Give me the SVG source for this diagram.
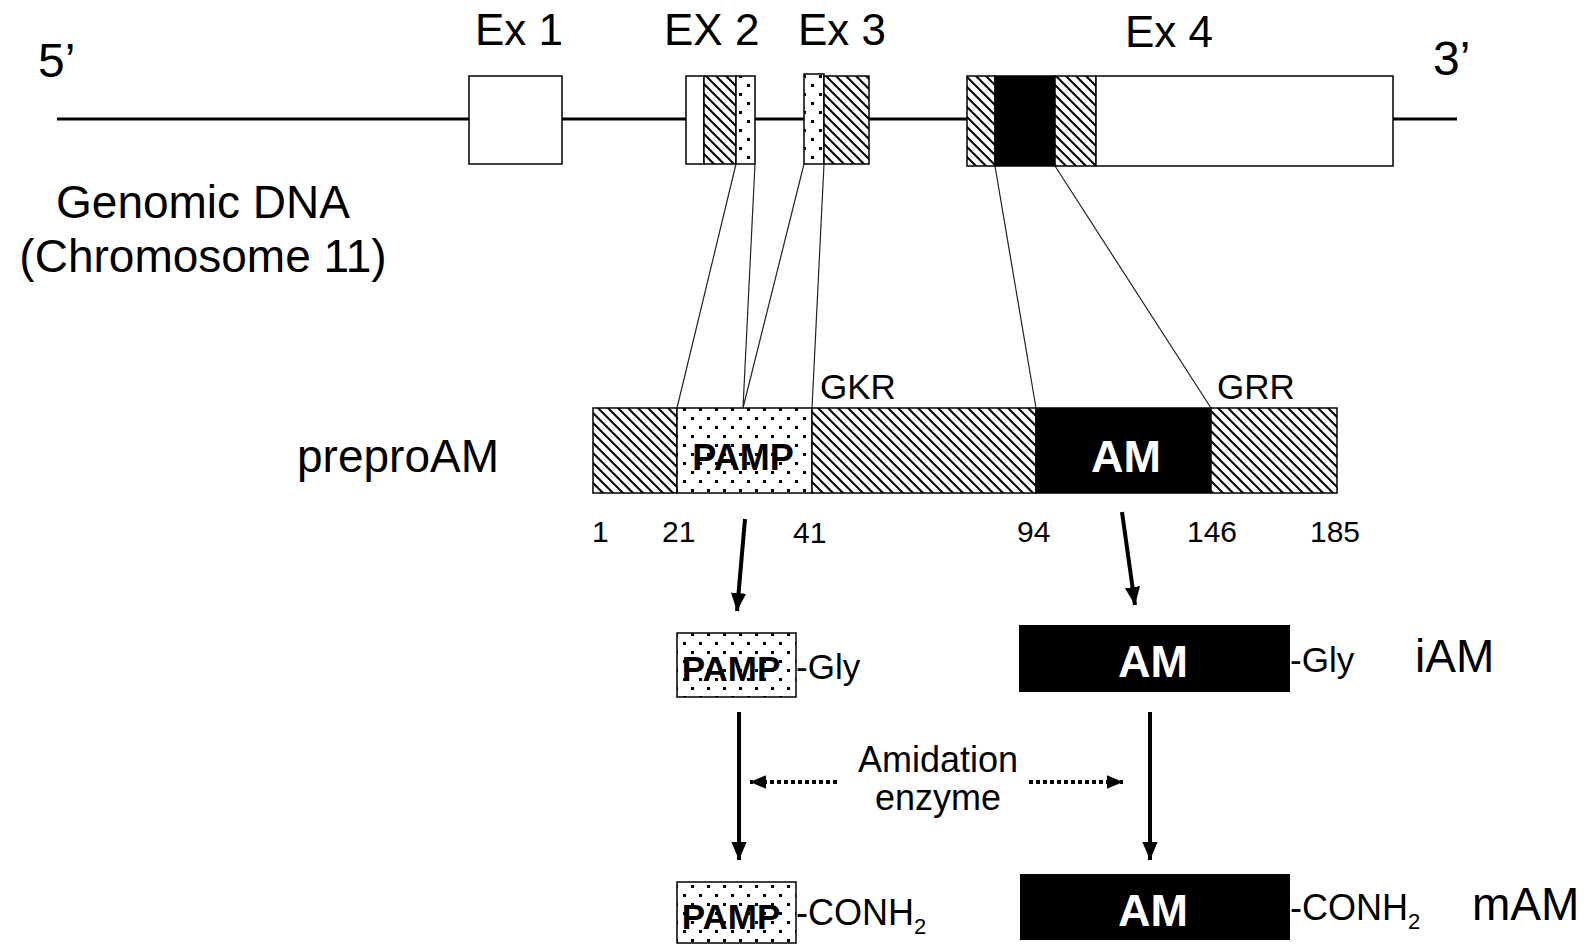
<svg xmlns="http://www.w3.org/2000/svg" width="1589" height="947" viewBox="0 0 1589 947">
<style>
text{font-family:"Liberation Sans",Arial,sans-serif;fill:#000}
.big{font-size:48px}
.ex{font-size:44px}
.lbl{font-size:46px}
.num{font-size:30px}
.mot{font-size:35px}
.side{font-size:36px}
.bw{font-weight:bold;font-size:45px;fill:#fff;text-anchor:middle}
.bp{font-weight:bold;font-size:35px;text-anchor:middle}
.box{stroke:#000;stroke-width:1.5}
.thin{stroke:#222;stroke-width:1.2;fill:none}
.gl{stroke:#000;stroke-width:3;fill:none}
.arr{stroke:#000;stroke-width:4;fill:none;marker-end:url(#ah)}
.darr{stroke:#000;stroke-width:4;fill:none;stroke-dasharray:4 3;marker-end:url(#ah2)}
</style>
<defs>
<pattern id="hatch" patternUnits="userSpaceOnUse" width="10" height="10">
<rect width="10" height="10" fill="#fff"/>
<path d="M0,0 L10,10 M-2,8 L2,12 M8,-2 L12,2" stroke="#000" stroke-width="2"/>
</pattern>
<pattern id="dots" patternUnits="userSpaceOnUse" width="16" height="18">
<rect width="16" height="18" fill="#fff"/>
<rect x="3" y="3" width="3" height="3" fill="#000"/>
<rect x="11" y="12" width="3" height="3" fill="#000"/>
</pattern>
<marker id="ah" markerWidth="5" markerHeight="5" refX="4.5" refY="2.5" orient="auto" markerUnits="strokeWidth">
<path d="M0,0.6 L4.5,2.5 L0,4.4 Z" fill="#000"/>
</marker>
<marker id="ah2" markerWidth="5" markerHeight="5" refX="4" refY="2.5" orient="auto" markerUnits="strokeWidth">
<path d="M0,0.8 L4,2.5 L0,4.2 Z" fill="#000"/>
</marker>
</defs>
<rect width="1589" height="947" fill="#fff"/>

<g id="genome">
<path class="gl" d="M57,119 H469 M562,119 H686 M755,119 H804 M869,119 H967 M1393,119 H1457"/>
<text class="big" x="38" y="77">5’</text>
<text class="big" x="1433" y="75">3’</text>
<text class="lbl" x="203" y="218" text-anchor="middle">Genomic DNA</text>
<text class="lbl" x="203" y="272" text-anchor="middle">(Chromosome 11)</text>
</g>

<g id="ex1">
<rect class="box" x="469" y="76" width="93" height="88" fill="#fff"/>
<text class="ex" x="475" y="45">Ex 1</text>
</g>
<g id="ex2">
<rect class="box" x="686" y="76" width="18" height="88" fill="#fff"/>
<rect class="box" x="704" y="76" width="32" height="88" fill="url(#hatch)"/>
<rect class="box" x="736" y="76" width="19" height="88" fill="url(#dots)"/>
<text class="ex" x="664" y="45">EX 2</text>
</g>
<g id="ex3">
<rect class="box" x="804" y="74" width="20" height="90" fill="url(#dots)"/>
<rect class="box" x="824" y="76" width="45" height="88" fill="url(#hatch)"/>
<text class="ex" x="798" y="45">Ex 3</text>
</g>
<g id="ex4">
<rect class="box" x="967" y="76" width="28" height="90" fill="url(#hatch)"/>
<rect class="box" x="995" y="76" width="60" height="90" fill="#000"/>
<rect class="box" x="1055" y="76" width="41" height="90" fill="url(#hatch)"/>
<rect class="box" x="1096" y="76" width="297" height="90" fill="#fff"/>
<text class="ex" x="1125" y="47">Ex 4</text>
</g>

<g id="preproAM">
<text class="lbl" x="297" y="472">preproAM</text>
<rect class="box" x="593" y="408" width="84" height="85" fill="url(#hatch)"/>
<rect class="box" x="677" y="408" width="135" height="85" fill="url(#dots)"/>
<rect class="box" x="812" y="408" width="224" height="85" fill="url(#hatch)"/>
<rect class="box" x="1036" y="408" width="175" height="85" fill="#000"/>
<rect class="box" x="1211" y="408" width="126" height="85" fill="url(#hatch)"/>
<text class="bp" x="743" y="470" style="font-size:36px">PAMP</text>
<text class="bw" x="1126" y="472">AM</text>
<text class="mot" x="820" y="399">GKR</text>
<text class="mot" x="1217" y="399">GRR</text>
<text class="num" x="592" y="542">1</text>
<text class="num" x="662" y="542">21</text>
<text class="num" x="793" y="543">41</text>
<text class="num" x="1017" y="542">94</text>
<text class="num" x="1187" y="542">146</text>
<text class="num" x="1310" y="542">185</text>
</g>

<g id="pamp-gly">
<rect class="box" x="677" y="633" width="119" height="64" fill="url(#dots)"/>
<text class="bp" x="731" y="681">PAMP</text>
<text class="mot" x="796" y="679">-Gly</text>
</g>
<g id="iAM">
<rect x="1019" y="625" width="271" height="67" fill="#000"/>
<text class="bw" x="1153" y="677">AM</text>
<text class="mot" x="1290" y="672">-Gly</text>
<text class="lbl" x="1415" y="672">iAM</text>
</g>
<g id="pamp-conh2">
<rect class="box" x="677" y="882" width="119" height="61" fill="url(#dots)"/>
<text class="bp" x="731" y="929">PAMP</text>
<text class="side" x="796" y="925">-CONH<tspan font-size="22" dy="9">2</tspan></text>
</g>
<g id="mAM">
<rect x="1020" y="874" width="270" height="66" fill="#000"/>
<text class="bw" x="1153" y="926">AM</text>
<text class="side" x="1290" y="920">-CONH<tspan font-size="22" dy="9">2</tspan></text>
<text class="lbl" x="1472" y="920">mAM</text>
</g>

<g id="amidation">
<text class="side" x="938" y="772" text-anchor="middle">Amidation</text>
<text class="side" x="938" y="810" text-anchor="middle">enzyme</text>
</g>

<g id="connectors">
<path class="thin" d="M736,164 L677,408 M755,164 L743,408 M804,164 L743,408 M824,164 L812,408 M995,166 L1036,408 M1055,166 L1211,408"/>
<path class="arr" d="M745,519 L737,611"/>
<path class="arr" d="M1122,512 L1135,605"/>
<path class="arr" d="M739,712 L739,860"/>
<path class="arr" d="M1150,712 L1150,860"/>
<path class="darr" d="M837,782 L750,782"/>
<path class="darr" d="M1029,782 L1123,782"/>
</g>
</svg>
